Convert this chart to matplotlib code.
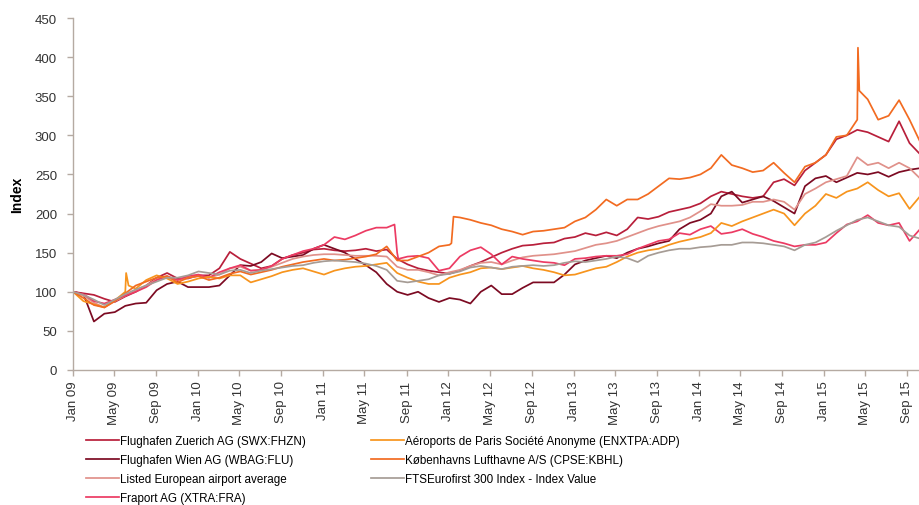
import matplotlib
matplotlib.use("Agg")
import matplotlib.pyplot as plt
import matplotlib.dates as mdates
import pandas as pd

plt.rcParams['font.family'] = ['Liberation Sans', 'DejaVu Sans']

# roughly monthly sample points, Jan 2009 -> early Oct 2015
dates = pd.date_range('2009-01-01', '2015-10-08', periods=82)

zurich = [100, 98, 96, 91, 87, 94, 100, 108, 118, 124, 117, 117, 121, 121, 130, 151, 142,
          136, 130, 133, 142, 147, 150, 154, 155, 153, 152, 153, 155, 152, 154, 142, 135,
          130, 127, 125, 123, 127, 133, 138, 144, 150, 155, 159, 160, 162, 163, 168, 170,
          175, 172, 176, 172, 180, 195, 193, 196, 202, 205, 208, 213, 222, 228, 225, 222,
          220, 222, 240, 244, 236, 255, 265, 275, 295, 300, 307, 304, 298, 292, 318, 290, 276]
wien = [100, 97, 62, 72, 74, 82, 85, 86, 102, 110, 113, 106, 106, 106, 108, 121, 134,
        133, 138, 149, 143, 145, 147, 155, 160, 155, 150, 142, 134, 125, 110, 100, 96,
        100, 92, 87, 92, 90, 85, 100, 108, 97, 97, 105, 112, 112, 112, 122, 135,
        140, 143, 146, 143, 150, 155, 158, 162, 165, 180, 188, 192, 200, 222, 228, 214,
        218, 222, 216, 208, 200, 235, 245, 248, 240, 246, 252, 250, 253, 247, 253, 256, 258]
listed = [100, 95, 86, 80, 88, 95, 102, 108, 116, 118, 115, 118, 120, 118, 122, 130, 132,
          127, 128, 132, 137, 142, 145, 147, 148, 148, 147, 146, 146, 146, 145, 132, 128,
          128, 125, 121, 125, 128, 133, 137, 138, 135, 140, 144, 146, 147, 148, 150, 152,
          156, 160, 162, 165, 170, 175, 180, 184, 187, 190, 195, 203, 212, 210, 210, 211,
          215, 215, 218, 215, 205, 225, 232, 240, 244, 248, 272, 262, 265, 258, 265, 258, 245]
fraport = [100, 97, 88, 85, 90, 95, 100, 106, 115, 120, 115, 120, 122, 118, 125, 130, 134,
           127, 128, 133, 142, 147, 152, 155, 160, 170, 167, 172, 178, 182, 182, 150, 145,
           146, 143, 127, 130, 145, 153, 157, 148, 135, 145, 142, 140, 138, 137, 134, 142,
           143, 145, 146, 146, 148, 155, 160, 165, 167, 175, 173, 180, 184, 174, 176, 180,
           174, 170, 165, 162, 158, 160, 160, 163, 175, 186, 190, 198, 188, 185, 188, 165, 180]
adp = [100, 88, 84, 80, 89, 100, 104, 115, 121, 117, 110, 113, 117, 119, 117, 121, 121,
       112, 116, 120, 125, 128, 130, 126, 122, 127, 130, 132, 133, 135, 137, 124, 118,
       113, 110, 110, 118, 122, 125, 130, 131, 129, 131, 133, 130, 128, 125, 121, 122,
       126, 130, 132, 138, 145, 150, 153, 155, 160, 164, 167, 170, 175, 188, 184, 190,
       195, 200, 205, 200, 185, 200, 210, 225, 220, 228, 232, 240, 230, 222, 226, 206, 222]
kbhl = [100, 92, 83, 80, 88, 98, 108, 113, 118, 120, 112, 118, 120, 115, 118, 123, 126,
        122, 125, 128, 132, 135, 138, 140, 142, 140, 141, 143, 145, 148, 158, 140, 140,
        145, 150, 158, 160, 195, 192, 188, 185, 180, 177, 173, 177, 178, 180, 182, 190,
        195, 205, 218, 210, 218, 218, 225, 235, 245, 244, 246, 250, 258, 275, 262, 258,
        253, 255, 265, 252, 240, 260, 265, 275, 298, 300, 320, 346, 320, 325, 345, 320, 292]
ftse = [100, 96, 90, 83, 90, 97, 103, 108, 113, 118, 118, 121, 126, 124, 122, 127, 128,
        124, 127, 129, 131, 133, 134, 137, 139, 140, 139, 138, 136, 133, 128, 114, 112,
        114, 116, 121, 123, 126, 131, 133, 131, 129, 132, 133, 134, 133, 134, 137, 139,
        138, 140, 142, 145, 143, 138, 146, 150, 153, 155, 155, 157, 158, 160, 160, 163,
        163, 162, 160, 158, 153, 160, 163, 170, 178, 185, 192, 195, 190, 185, 183, 172, 168]

# sharp one-off moves between the monthly points
adp_event_dates = ['2009-06-05', '2009-06-12']
adp_event_values = [124, 108]
fraport_event_dates = ['2011-07-28', '2011-08-08']
fraport_event_values = [186, 142]
kbhl_event_dates = ['2012-01-10', '2012-01-16', '2015-04-10', '2015-04-14']
kbhl_event_values = [162, 196, 412, 357]

labels = ['Flughafen Zuerich AG (SWX:FHZN)', 'Flughafen Wien AG (WBAG:FLU)',
          'Listed European airport average', 'Fraport AG (XTRA:FRA)',
          'Aéroports de Paris Société Anonyme (ENXTPA:ADP)',
          'Københavns Lufthavne A/S (CPSE:KBHL)', 'FTSEurofirst 300 Index - Index Value']
colors = ['#b81f3b', '#7c0a22', '#e0918a', '#ec3b63', '#f7941d', '#f26b21', '#a69c95']


def series(values, ev_dates=None, ev_values=None):
    s = pd.Series(values, index=dates)
    if ev_dates:
        s = pd.concat([s, pd.Series(ev_values, index=pd.to_datetime(ev_dates))]).sort_index()
    return s


all_series = [series(zurich), series(wien), series(listed),
              series(fraport, fraport_event_dates, fraport_event_values),
              series(adp, adp_event_dates, adp_event_values),
              series(kbhl, kbhl_event_dates, kbhl_event_values),
              series(ftse)]

fig = plt.figure(figsize=(9.2, 5.06), dpi=100)
ax = fig.add_axes([73 / 920, 1 - 371 / 506, (920 - 73) / 920, (371 - 19) / 506])

for s, lab, c in zip(all_series, labels, colors):
    ax.plot(s.index, s.values, color=c, lw=1.25, label=lab)

axis_col = '#b5aaa2'
ax.set_xlim(pd.Timestamp('2009-01-01'), pd.Timestamp('2015-10-08'))
ax.set_ylim(0, 450)
ax.set_yticks(range(0, 451, 50))
ax.set_xticks(pd.date_range('2009-01-01', '2015-09-01', freq='4MS'))
ax.xaxis.set_major_formatter(mdates.DateFormatter('%b %y'))
ax.tick_params(axis='x', rotation=90)
ax.tick_params(colors=axis_col, labelcolor='#333333', labelsize=9.5, length=4, width=1)
ax.tick_params(axis='y', pad=7.5)
for side in ['top', 'right']:
    ax.spines[side].set_visible(False)
for side in ['left', 'bottom']:
    ax.spines[side].set_color(axis_col)
    ax.spines[side].set_linewidth(1)
ax.set_ylabel('Index', fontsize=10, fontweight='bold', labelpad=8)

fig.legend(loc='upper left', bbox_to_anchor=(86 / 920, 1 - 436 / 506), ncol=2,
           frameon=False, fontsize=8.4, handlelength=2.8, handletextpad=0.12,
           columnspacing=5.6, labelspacing=0.6, borderpad=0, borderaxespad=0)

fig.savefig('out.png', dpi=100)
